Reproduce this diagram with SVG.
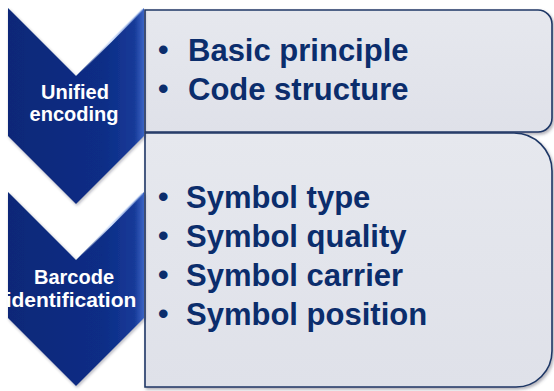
<svg xmlns="http://www.w3.org/2000/svg" width="554" height="391" viewBox="0 0 554 391">
<defs>
<style>
.box{fill:url(#boxg);stroke:#1e3766;stroke-width:1.6;filter:url(#sh)}
.chev{fill:url(#chg);filter:url(#csh)}
.hl{fill:none;stroke:url(#hlg);stroke-width:2.2;stroke-linecap:round}
.lab{font-family:"Liberation Sans",Arial,sans-serif;font-weight:bold;font-size:20px;fill:#ffffff;text-anchor:middle}
.item{font-family:"Liberation Sans",Arial,sans-serif;font-weight:bold;font-size:31px;fill:#0b2d6c}
.bul{font-family:"Liberation Sans",Arial,sans-serif;font-weight:bold;font-size:30px;fill:#0b2d6c}
</style>
<linearGradient id="boxg" x1="0" y1="0" x2="0" y2="1">
<stop offset="0" stop-color="#e6e8ee"/>
<stop offset="1" stop-color="#dfe1e9"/>
</linearGradient>
<linearGradient id="chg" x1="0" y1="0" x2="1" y2="0">
<stop offset="0" stop-color="#0a2878"/>
<stop offset="0.7" stop-color="#0d2d86"/>
<stop offset="0.93" stop-color="#163a98"/>
<stop offset="1" stop-color="#3a64c4"/>
</linearGradient>
<linearGradient id="hlg" x1="0" y1="1" x2="1" y2="0">
<stop offset="0" stop-color="#ffffff" stop-opacity="0"/>
<stop offset="0.5" stop-color="#dbe8ff" stop-opacity="0.95"/>
<stop offset="1" stop-color="#9fbcf0" stop-opacity="0.4"/>
</linearGradient>
<filter id="sh" x="-5%" y="-5%" width="112%" height="115%">
<feDropShadow dx="1.5" dy="2" stdDeviation="1.5" flood-color="#556" flood-opacity="0.45"/>
</filter>
<filter id="csh" x="-10%" y="-10%" width="125%" height="125%">
<feDropShadow dx="1" dy="1.5" stdDeviation="1.5" flood-color="#223" flood-opacity="0.35"/>
</filter>
</defs>
<rect width="554" height="391" fill="#ffffff"/>
<g id="connectors"/>
<g id="box1">
<path class="box" d="M145,10 H538 A14,14 0 0 1 552,24 V118 A14,14 0 0 1 538,132 H145 Z"/>
<text class="bul" x="158" y="60">•</text>
<text class="item" x="188" y="61">Basic principle</text>
<text class="bul" x="158" y="99">•</text>
<text class="item" x="188" y="100">Code structure</text>
</g>
<g id="box2">
<path class="box" d="M145,133 H514 A38,38 0 0 1 552,171 V351 A36,36 0 0 1 516,387 H145 Z"/>
<text class="bul" x="158" y="207">•</text>
<text class="item" x="186" y="208">Symbol type</text>
<text class="bul" x="158" y="246">•</text>
<text class="item" x="186" y="247">Symbol quality</text>
<text class="bul" x="158" y="285">•</text>
<text class="item" x="186" y="286">Symbol carrier</text>
<text class="bul" x="158" y="324">•</text>
<text class="item" x="186" y="325">Symbol position</text>
</g>
<g id="chevron1">
<path class="chev" d="M8,8 L76,76 L144,8 L144,136 L76,204 L8,136 Z"/>
<path class="hl" d="M80,72 L142,10"/>
<text class="lab" x="75" y="99">Unified</text>
<text class="lab" x="74" y="121">encoding</text>
</g>
<g id="chevron2">
<path class="chev" d="M8,192 L76,260 L144,192 L144,318 L76,386 L8,318 Z"/>
<path class="hl" d="M80,256 L142,194"/>
<text class="lab" x="74" y="284">Barcode</text>
<text class="lab" x="71" y="307" style="font-size:21px">identification</text>
</g>
</svg>
